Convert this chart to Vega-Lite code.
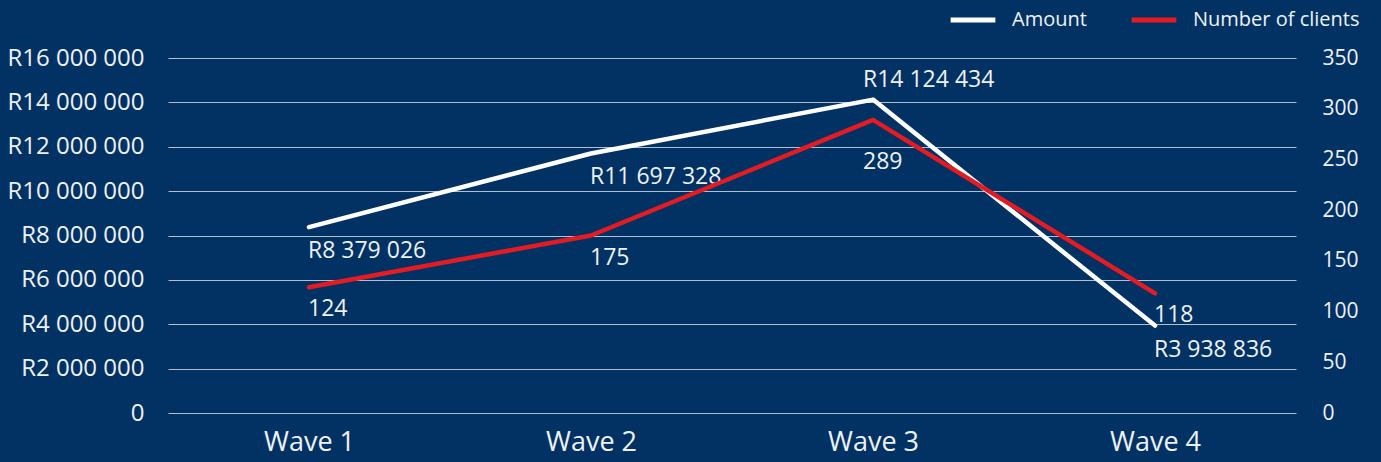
{
  "$schema": "https://vega.github.io/schema/vega-lite/v6.json",
  "width": 1128,
  "height": 355,
  "autosize": "none",
  "padding": {"left": 168, "top": 58, "right": 85, "bottom": 49},
  "background": "#013263",
  "config": {
    "view": {"stroke": null},
    "font": "Open Sans",
    "locale": {"number": {"decimal": ".", "thousands": " ", "grouping": [3], "currency": ["R", ""]}}
  },
  "data": {"values": [
    {"wave": "Wave 1", "amount": 8379026, "clients": 124},
    {"wave": "Wave 2", "amount": 11697328, "clients": 175},
    {"wave": "Wave 3", "amount": 14124434, "clients": 289},
    {"wave": "Wave 4", "amount": 3938836, "clients": 118}
  ]},
  "encoding": {
    "x": {"field": "wave", "type": "nominal", "sort": null,
      "axis": {"title": null, "labelAngle": 0, "labelFontSize": 27, "labelColor": "#eef1f6", "labelPadding": 16, "domain": false, "ticks": false, "labelFont": "Open Sans"}}
  },
  "layer": [
    {
      "layer": [
        {
          "mark": {"type": "line", "strokeWidth": 4.5, "strokeCap": "round", "strokeJoin": "round"},
          "encoding": {
            "y": {"field": "amount", "type": "quantitative", "scale": {"domain": [0, 16000000]},
              "axis": {"orient": "left", "title": null, "values": [0, 2000000, 4000000, 6000000, 8000000, 10000000, 12000000, 14000000, 16000000],
                "format": "$,d", "labelExpr": "datum.value == 0 ? '0' : datum.label",
                "labelFontSize": 24, "labelColor": "#eef1f6", "labelPadding": 24, "ticks": false, "domain": false,
                "grid": true, "gridColor": "#b4bfcd", "gridWidth": 1.2}},
            "color": {"datum": "Amount", "type": "nominal",
              "scale": {"domain": ["Amount", "Number of clients"], "range": ["#ffffff", "#e31b23"]},
              "legend": {"title": null, "orient": "none", "legendX": 780, "legendY": -63, "direction": "horizontal",
                "symbolType": "stroke", "symbolSize": 2000, "symbolStrokeWidth": 5, "labelFontSize": 20, "labelColor": "#eef1f6",
                "labelLimit": 400, "columnPadding": 34, "labelOffset": 14}}
          }
        },
        {
          "transform": [{"filter": "datum.wave != 'Wave 3'"}],
          "mark": {"type": "text", "align": "left", "baseline": "middle", "dy": 24, "dx": -1, "fontSize": 23, "color": "#eef1f6"},
          "encoding": {"y": {"field": "amount", "type": "quantitative"}, "text": {"field": "amount", "type": "quantitative", "format": "$,d"}}
        },
        {
          "transform": [{"filter": "datum.wave == 'Wave 3'"}],
          "mark": {"type": "text", "align": "left", "baseline": "middle", "dy": -20, "dx": -10, "fontSize": 23, "color": "#eef1f6"},
          "encoding": {"y": {"field": "amount", "type": "quantitative"}, "text": {"field": "amount", "type": "quantitative", "format": "$,d"}}
        }
      ]
    },
    {
      "layer": [
        {
          "mark": {"type": "line", "strokeWidth": 4.5, "strokeCap": "round", "strokeJoin": "round"},
          "encoding": {
            "y": {"field": "clients", "type": "quantitative", "scale": {"domain": [0, 350]},
              "axis": {"orient": "right", "title": null, "values": [0, 50, 100, 150, 200, 250, 300, 350],
                "labelFontSize": 21, "labelColor": "#eef1f6", "labelPadding": 26, "ticks": false, "domain": false, "grid": false}},
            "color": {"datum": "Number of clients", "type": "nominal"}
          }
        },
        {
          "transform": [{"filter": "datum.wave != 'Wave 3'"}],
          "mark": {"type": "text", "align": "left", "baseline": "middle", "dy": 22, "dx": -1, "fontSize": 23, "color": "#eef1f6"},
          "encoding": {"y": {"field": "clients", "type": "quantitative"}, "text": {"field": "clients", "type": "quantitative"}}
        },
        {
          "transform": [{"filter": "datum.wave == 'Wave 3'"}],
          "mark": {"type": "text", "align": "left", "baseline": "middle", "dy": 42, "dx": -10, "fontSize": 23, "color": "#eef1f6"},
          "encoding": {"y": {"field": "clients", "type": "quantitative"}, "text": {"field": "clients", "type": "quantitative"}}
        }
      ]
    }
  ],
  "resolve": {"scale": {"y": "independent"}}
}
